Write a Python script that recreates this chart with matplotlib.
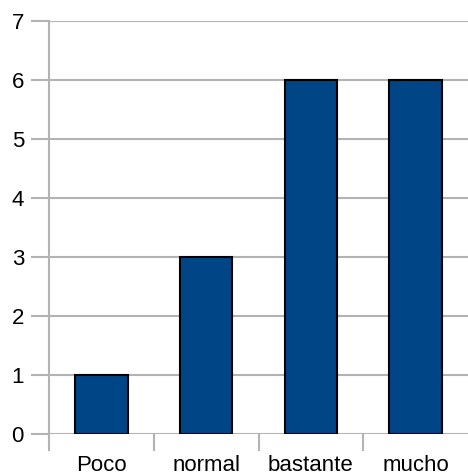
import matplotlib
matplotlib.use("Agg")
import matplotlib.pyplot as plt

# Data
categories = ["Poco", "normal", "bastante", "mucho"]
values = [1, 3, 6, 6]
y_ticks = [0, 1, 2, 3, 4, 5, 6, 7]

plt.rcParams["font.family"] = ["Liberation Sans", "DejaVu Sans"]

fig = plt.figure(figsize=(4.68, 4.76), dpi=100)
ax = fig.add_axes([49 / 468, 1 - 434 / 476, 1 - 49 / 468, (434 - 21) / 476])

grid_color = "#b3b3b3"
x = list(range(len(categories)))
ax.bar(x, values, width=0.5, color="#004586", edgecolor="black", linewidth=1.5, zorder=3)

ax.set_xlim(-0.5, len(categories) - 0.5)
ax.set_ylim(0, 7)
ax.set_yticks(y_ticks)
ax.yaxis.grid(True, color=grid_color, linewidth=1.5, zorder=0)

# category boundaries get the ticks, labels sit in the middle
ax.set_xticks([i - 0.5 for i in range(len(categories))])
ax.set_xticklabels([])
ax.set_xticks(x, minor=True)
ax.set_xticklabels(categories, minor=True, fontsize=16)
ax.tick_params(axis="x", which="major", length=12, width=1.5, color=grid_color, direction="out")
ax.tick_params(axis="x", which="minor", length=0, pad=15)
ax.tick_params(axis="y", length=13, width=1.5, color=grid_color, labelsize=16, pad=5)

for side in ["top", "right", "bottom"]:
    ax.spines[side].set_visible(False)
ax.spines["left"].set_color(grid_color)
ax.spines["left"].set_linewidth(1.5)

fig.savefig("out.png", dpi=100)
